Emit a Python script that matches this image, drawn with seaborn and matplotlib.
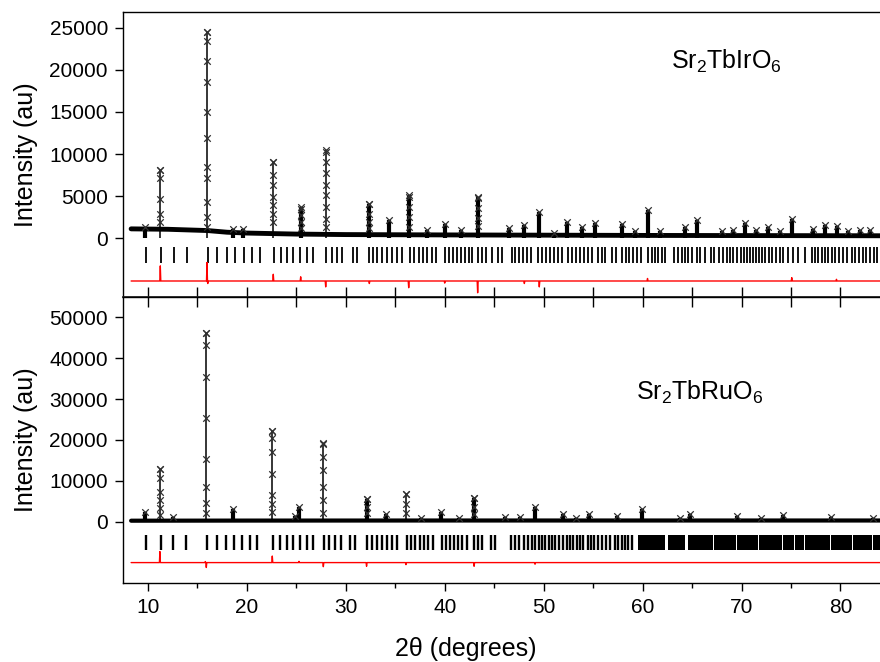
import numpy as np
import pandas as pd
import matplotlib
matplotlib.use("Agg")
import matplotlib.pyplot as plt
import seaborn as sns
from matplotlib.ticker import MultipleLocator

# ---- Sr2TbIrO6 (top panel) ----
ir_bg_x = [8.3, 12, 16, 18, 20, 25, 30, 40, 60, 84]
ir_bg_y = [1100, 1050, 900, 700, 600, 480, 420, 380, 320, 280]

ir_peak_pos = [9.7, 11.25, 15.97, 18.6, 19.6, 22.67, 25.44, 27.97, 32.38, 34.4,
               36.36, 38.2, 40.0, 41.65, 43.33, 46.5, 48.05, 49.56, 51.05, 52.4,
               53.85, 55.2, 57.9, 59.24, 60.5, 61.77, 64.3, 65.54, 68.0, 69.18,
               70.36, 71.5, 72.7, 73.9, 75.08, 77.27, 78.45, 79.63, 80.8, 82.0, 83.0]
ir_peak_top = [1350, 8100, 24500, 1050, 1100, 9100, 3700, 10500, 4100, 2100,
               5100, 1000, 1700, 1000, 4900, 1200, 1500, 3100, 600, 1900,
               1300, 1800, 1700, 800, 3300, 900, 1300, 2100, 800, 1000,
               1800, 1000, 1300, 900, 2300, 1100, 1500, 1400, 900, 1000, 1000]

# observed points read along the tall peaks
ir_obs_x = [15.97] * 11 + [11.25] * 5 + [22.67] * 7 + [27.97] * 8 + [25.44] * 4 \
    + [32.38] * 4 + [36.36] * 4 + [43.33] * 4
ir_obs_y = [24500, 23400, 21100, 18600, 15000, 11900, 8500, 7200, 4300, 2500, 1300,
            8100, 7100, 4700, 2900, 1900,
            9000, 7500, 6300, 4900, 3900, 2900, 1900,
            10300, 9000, 7700, 6300, 5100, 3700, 2300, 1300,
            3500, 2700, 1900, 1200,
            4000, 2900, 1900, 1200,
            4900, 3700, 2500, 1300,
            4800, 3600, 2400, 1400]

ir_bragg = [9.80, 11.31, 12.66, 13.92, 16.04, 17.00, 17.96, 18.80, 19.71, 20.52,
            21.32, 22.74, 23.42, 24.09, 24.69, 25.37, 26.04, 26.71, 27.99, 28.57,
            29.14, 29.64, 30.75, 31.16, 32.37, 32.77, 33.18, 33.69, 34.20, 34.70,
            35.21, 35.71, 36.49, 36.93, 37.37, 37.81, 38.24, 38.69, 39.12, 40.03,
            40.43, 40.84, 41.24, 41.65, 42.05, 42.46, 42.79, 43.40, 43.80, 44.21,
            44.75, 45.42, 45.76, 46.77, 47.11, 47.51, 47.92, 48.32, 48.73, 49.46,
            49.87, 50.27, 50.68, 51.08, 51.49, 51.83, 52.44, 52.84, 53.25, 53.65,
            54.05, 54.46, 54.86, 55.47, 55.87, 56.21, 56.95, 57.29, 57.93, 58.28,
            58.64, 58.99, 59.41, 59.85, 60.53, 60.93, 61.26, 61.60, 61.94, 62.27,
            63.22, 63.62, 63.96, 64.30, 64.63, 64.97, 65.48, 65.81, 66.32, 66.93,
            67.26, 67.77, 68.11, 68.51, 68.85, 69.18, 69.52, 69.96, 70.29, 70.60,
            70.90, 71.20, 71.51, 71.81, 72.05, 72.39, 72.76, 73.12, 73.50, 73.87,
            74.24, 74.74, 75.25, 75.69, 76.43, 77.11, 77.44, 77.78, 78.12, 78.46,
            78.79, 79.13, 79.49, 79.87, 80.24, 80.65, 81.15, 81.52, 81.89, 82.26,
            82.63, 83.00, 83.38, 83.74]

ir_diff_pos = [11.25, 15.97, 16.05, 22.67, 25.44, 27.97, 32.38, 36.36, 40.0,
               43.33, 48.05, 49.56, 60.5, 75.08, 79.6]
ir_diff_amp = [1800, 2200, -300, 800, 500, -700, -300, -800, -250,
               -1400, -300, -700, 300, 400, 200]

# ---- Sr2TbRuO6 (bottom panel) ----
ru_bg_x = [8.3, 20, 40, 60, 84]
ru_bg_y = [250, 280, 300, 300, 300]

ru_peak_pos = [9.7, 11.21, 12.56, 15.87, 18.6, 22.57, 24.9, 25.27, 27.73, 32.1,
               34.1, 36.08, 37.6, 39.6, 41.4, 42.97, 46.1, 47.6, 49.13, 51.99,
               53.3, 54.6, 57.4, 59.9, 63.8, 64.8, 69.5, 72.0, 74.2, 79.0, 83.3]
ru_peak_top = [2400, 13000, 1200, 46300, 3000, 22200, 1300, 3500, 19200, 5600,
               1800, 6700, 800, 2300, 800, 5700, 1200, 1200, 3500, 2000,
               1000, 1800, 1400, 3000, 900, 1800, 1400, 900, 1700, 1100, 900]

ru_obs_x = [15.87] * 8 + [11.21] * 6 + [22.57] * 7 + [27.73] * 6 + [32.1] * 3 \
    + [36.08] * 3 + [42.97] * 3
ru_obs_y = [46100, 43200, 35500, 25300, 15300, 8600, 4600, 2100,
            13000, 10600, 7300, 5300, 3300, 1600,
            22200, 20400, 17100, 11800, 6500, 4300, 2400,
            19000, 15900, 12600, 8600, 5300, 2100,
            5600, 3700, 2100,
            6700, 4300, 2100,
            5700, 3700, 1800]

ru_bragg = [9.80, 11.28, 12.56, 13.84, 16.00, 16.95, 17.89, 18.70, 19.47, 20.31,
            21.05, 22.67, 23.35, 24.02, 24.69, 25.37, 26.04, 26.71, 27.80, 28.33,
            28.91, 29.48, 30.42, 30.93, 32.11, 32.62, 33.12, 33.69, 34.20, 34.70,
            35.21, 36.15, 36.59, 37.02, 37.47, 37.90, 38.34, 38.78, 39.69, 40.10,
            40.53, 40.97, 41.37, 41.78, 42.22, 42.96, 43.40, 43.80, 44.69, 45.12,
            46.69, 47.13, 47.53, 47.97, 48.38, 48.81, 49.15, 49.49, 49.83, 50.16,
            50.50, 50.84, 51.17, 51.52, 51.98, 52.33, 52.66, 52.99, 53.34, 53.67,
            54.01, 54.45, 54.79, 55.12, 55.47, 55.91, 56.28, 56.72, 57.22, 57.56,
            57.90, 58.24, 58.57, 58.92]
# above ~59 deg the reflections merge into solid blocks
ru_block_start = [59.5, 62.6, 64.6, 67.25, 69.55, 71.75, 74.15, 75.45, 76.45, 79.05, 81.25, 83.25]
ru_block_end = [62.3, 64.3, 67.15, 69.45, 71.65, 74.05, 75.35, 76.35, 78.95, 81.15, 83.15, 84.5]

ru_diff_pos = [11.21, 15.80, 15.90, 22.57, 25.27, 27.73, 32.1, 36.08, 42.97, 49.13]
ru_diff_amp = [2700, 250, -1200, 1600, 300, -1000, -900, -500, -900, -400]

X_MIN, X_MAX = 7.5, 84.0

sns.set_theme(style="ticks")
plt.rcParams['font.family'] = ['Liberation Sans', 'DejaVu Sans']
plt.rcParams['mathtext.fontset'] = 'custom'
plt.rcParams['mathtext.rm'] = 'Liberation Sans'
plt.rcParams['mathtext.it'] = 'Liberation Sans'
plt.rcParams['text.color'] = 'black'
plt.rcParams['axes.labelcolor'] = 'black'
plt.rcParams['xtick.color'] = 'black'
plt.rcParams['ytick.color'] = 'black'

fig = plt.figure(figsize=(8.8, 6.62), dpi=100)
ax1 = fig.add_axes([0.14, 0.5514, 0.86, 0.4306])
ax2 = fig.add_axes([0.14, 0.1193, 0.86, 0.4321])


def diff_curve(pos, amp, offset):
    xs, ys = [X_MIN + 0.8], [offset]
    for p, a in sorted(zip(pos, amp)):
        xs += [p - 0.05, p, p + 0.05]
        ys += [offset, offset + a, offset]
    xs.append(X_MAX)
    ys.append(offset)
    return pd.DataFrame({"x": xs, "y": ys})


def draw_panel(ax, bg_x, bg_y, pk_pos, pk_top, obs_x, obs_y, bragg, bragg_lo, bragg_hi,
               diff_pos, diff_amp, diff_off, bg_lw, tick_lw, blocks=None):
    peaks = pd.DataFrame({"pos": pk_pos, "top": pk_top})
    small = peaks[peaks["top"] < 6000]
    # observed background band
    sns.lineplot(x=bg_x, y=bg_y, ax=ax, color="black", lw=bg_lw, sort=False, estimator=None)
    # calculated peaks
    ax.vlines(peaks["pos"], 0, peaks["top"], color="black", lw=1.1)
    ax.vlines(small["pos"], 0, small["top"], color="black", lw=3.0)
    # observed points
    obs = pd.DataFrame({"x": list(obs_x) + list(pk_pos), "y": list(obs_y) + list(pk_top)})
    sns.scatterplot(data=obs, x="x", y="y", ax=ax, marker="x", s=22, color="#303030",
                    linewidth=0.9, zorder=3)
    # Bragg reflections
    ax.vlines(bragg, bragg_lo, bragg_hi, color="black", lw=tick_lw)
    if blocks is not None:
        ax.broken_barh([(s, e - s) for s, e in zip(*blocks)],
                       (bragg_lo, bragg_hi - bragg_lo), facecolor="black", edgecolor="none")
    # difference
    d = diff_curve(diff_pos, diff_amp, diff_off)
    sns.lineplot(data=d, x="x", y="y", ax=ax, color="red", lw=1.0, sort=False, estimator=None)

    ax.set_xlim(X_MIN, X_MAX)
    ax.xaxis.set_major_locator(MultipleLocator(10))
    ax.xaxis.set_minor_locator(MultipleLocator(5))
    ax.spines["right"].set_visible(False)
    for s in ["left", "top", "bottom"]:
        ax.spines[s].set_linewidth(1.0)
        ax.spines[s].set_color("black")
    ax.tick_params(axis="y", direction="out", length=6, width=1.0, labelsize=15, pad=5)
    ax.set_ylabel("Intensity (au)", fontsize=18, labelpad=8)
    ax.set_xlabel("")


draw_panel(ax1, ir_bg_x, ir_bg_y, ir_peak_pos, ir_peak_top, ir_obs_x, ir_obs_y,
           ir_bragg, -3000, -1100, ir_diff_pos, ir_diff_amp, -5100, 3.5, 1.3)
draw_panel(ax2, ru_bg_x, ru_bg_y, ru_peak_pos, ru_peak_top, ru_obs_x, ru_obs_y,
           ru_bragg, -6950, -3300, ru_diff_pos, ru_diff_amp, -10000, 3.0, 1.7,
           blocks=(ru_block_start, ru_block_end))

ax1.set_ylim(-7000, 26900)
ax1.set_yticks([0, 5000, 10000, 15000, 20000, 25000])
ax1.tick_params(axis="x", which="both", direction="in", length=7, width=1.0,
                labelbottom=False)
ax1.text(68.5, 21000, "Sr$_2$TbIrO$_6$", fontsize=18, ha="center", va="center")

ax2.set_ylim(-15000, 55000)
ax2.set_yticks([0, 10000, 20000, 30000, 40000, 50000])
ax2.tick_params(axis="x", which="major", direction="out", length=6, width=1.0,
                labelsize=15, pad=5)
ax2.tick_params(axis="x", which="minor", direction="out", length=3.5, width=1.0)
ax2.text(65.8, 31700, "Sr$_2$TbRuO$_6$", fontsize=18, ha="center", va="center")
ax2.set_xlabel("2\u03b8 (degrees)", fontsize=18, labelpad=12)
ax2.xaxis.set_label_coords(0.453, -0.19)

# inward ticks on the top edge of the lower panel
sec = ax2.secondary_xaxis("top")
sec.xaxis.set_major_locator(MultipleLocator(5))
sec.tick_params(axis="x", direction="in", length=7, width=1.0, labeltop=False)

fig.savefig("out.png", dpi=100)
